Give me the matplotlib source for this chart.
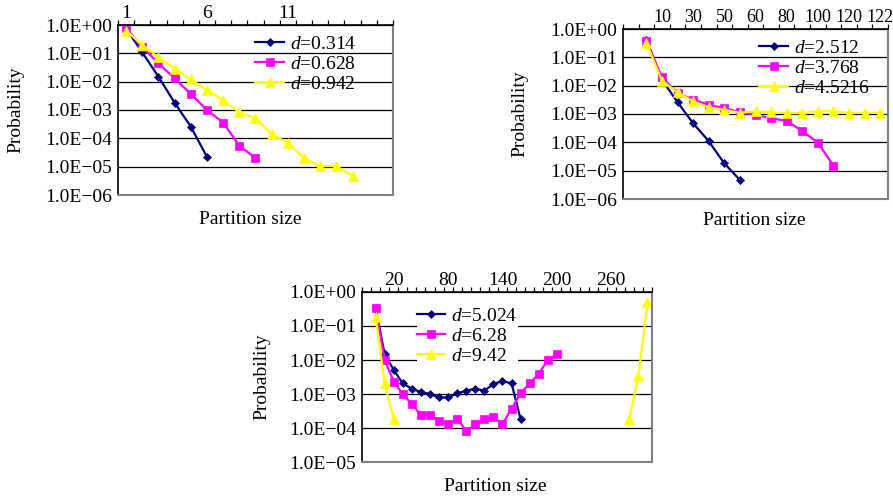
import numpy as np
import matplotlib
matplotlib.use("Agg")
import matplotlib.pyplot as plt
from matplotlib.transforms import ScaledTranslation

plt.rcParams["font.family"] = ["Liberation Serif", "DejaVu Serif"]
plt.rcParams["mathtext.fontset"] = "custom"
plt.rcParams["mathtext.rm"] = "Liberation Serif"
plt.rcParams["mathtext.it"] = "Liberation Serif:italic"

# chart 1: 17 categories, series start at category 1
c1_ncat = 17
c1_tick_cats = [1, 6, 11]
c1_tick_labels = ["1", "6", "11"]
c1_start = 1
d_0314 = [0.76, 0.108, 0.015, 0.0018, 2.6e-4, 2.2e-5]
d_0628 = [0.76, 0.17, 0.044, 0.013, 3.7e-3, 1.0e-3, 3.6e-4, 5.5e-5, 2.0e-5]
d_0942 = [0.63, 0.197, 0.072, 0.029, 0.012, 5.1e-3, 2.2e-3, 8.3e-4, 5.1e-4,
          1.4e-4, 7e-5, 2e-5, 1.05e-5, 1.05e-5, 4.7e-6]

# chart 2: 17 categories, series start at category 2
c2_ncat = 17
c2_tick_cats = [3, 5, 7, 9, 11, 13, 15, 17]
c2_tick_labels = ["10", "30", "50", "60", "80", "100", "120", "122"]
c2_start = 2
d_2512 = [0.42, 0.016, 2.6e-3, 4.7e-4, 1.1e-4, 1.8e-5, 4.7e-6]
d_3768 = [0.37, 0.0195, 5.5e-3, 3.2e-3, 2.1e-3, 1.6e-3, 1.15e-3, 9.3e-4,
          7.1e-4, 5.7e-4, 2.5e-4, 9.8e-5, 1.5e-5]
d_45216 = [0.32, 0.015, 5.8e-3, 2.8e-3, 1.7e-3, 1.4e-3, 1.1e-3, 1.25e-3,
           1.15e-3, 1.07e-3, 1.07e-3, 1.27e-3, 1.27e-3, 1.07e-3, 1.1e-3, 1.1e-3]

# chart 3: 32 categories, series start at category 2
c3_ncat = 32
c3_tick_cats = [4, 10, 16, 22, 28]
c3_tick_labels = ["20", "80", "140", "200", "260"]
c3_start = 2
d_5024 = [0.337, 0.0148, 5.1e-3, 2.05e-3, 1.43e-3, 1.14e-3, 1.0e-3, 7.9e-4,
          7.9e-4, 1.04e-3, 1.25e-3, 1.43e-3, 1.25e-3, 1.96e-3, 2.4e-3, 2.05e-3,
          1.82e-4]
d_628 = [0.337, 0.0100, 2.3e-3, 1.0e-3, 5.0e-4, 2.4e-4, 2.4e-4, 1.6e-4, 1.3e-4,
         1.9e-4, 8.1e-5, 1.3e-4, 1.8e-4, 2.1e-4, 1.3e-4, 3.7e-4, 1.04e-3,
         2.05e-3, 3.9e-3, 1.0e-2, 1.48e-2]
d_942 = [0.19, 2.05e-3, 1.9e-4] + [np.nan] * 25 + [1.9e-4, 3.4e-3, 0.5]

NAVY = "#000080"
MAGENTA = "#FF00FF"
YELLOW = "#FFFF00"
styles = [dict(color=NAVY, marker="D", ms=4.5),
          dict(color=MAGENTA, marker="s", ms=5.5),
          dict(color=YELLOW, marker="^", ms=6.5)]

FS = 14

W, H = 893, 498
fig = plt.figure(figsize=(W / 100, H / 100), dpi=100)


def px_axes(l, t, r, b):
    return fig.add_axes([l / W, 1 - b / H, (r - l) / W, (b - t) / H])


def draw(ax, ncat, start, series, labels, tick_cats, tick_labels, ymin_exp,
         leg_xy, ylab_x, xlab_xy, leg_bg, xfs=FS, xshift=0):
    for vals, lab, st in zip(series, labels, styles):
        x = np.arange(start, start + len(vals))
        ax.plot(x, vals, lw=1.6, mew=0.5, mec=st["color"], label=lab,
                **st, clip_on=False)
    ax.set_yscale("log")
    ax.set_ylim(10.0 ** ymin_exp, 1.0)
    ax.set_xlim(0.5, ncat + 0.5)
    exps = list(range(0, ymin_exp - 1, -1))
    ax.set_yticks([10.0 ** e for e in exps])
    ax.set_yticklabels(["1.0E+00" if e == 0 else "1.0E\u2212%02d" % (-e)
                        for e in exps], fontsize=FS)
    ax.yaxis.set_minor_locator(matplotlib.ticker.NullLocator())
    ax.tick_params(axis="y", length=0, pad=4)
    ax.grid(axis="y", color="black", lw=0.9)
    ax.set_axisbelow(True)
    ax.xaxis.tick_top()
    ax.set_xticks(tick_cats)
    ax.set_xticklabels(tick_labels, fontsize=xfs)
    if xshift:
        off = ScaledTranslation(xshift / 100, 0, fig.dpi_scale_trans)
        for t in ax.get_xticklabels():
            t.set_transform(t.get_transform() + off)
    ax.set_xticks(np.arange(0.5, ncat + 1), minor=True)
    ax.tick_params(axis="x", which="major", length=0, pad=2)
    ax.tick_params(axis="x", which="minor", length=3.5, width=0.9,
                   direction="out", color="black")
    for s in ["left", "top"]:
        ax.spines[s].set_color("black")
        ax.spines[s].set_linewidth(1.2)
    for s in ["right", "bottom"]:
        ax.spines[s].set_color("#808080")
        ax.spines[s].set_linewidth(1.5)
    ax.text(ylab_x, 0.5, "Probability", rotation=90, ha="center",
            va="center", fontsize=FS, transform=ax.transAxes)
    ax.text(xlab_xy[0], xlab_xy[1], "Partition size", ha="center",
            va="center", fontsize=FS, transform=ax.transAxes)
    leg = ax.legend(loc="upper left", bbox_to_anchor=leg_xy, fontsize=FS,
                    frameon=leg_bg, handlelength=1.45, handletextpad=0.3,
                    labelspacing=0.12, borderpad=0.0, borderaxespad=0.0)
    if leg_bg:
        leg.get_frame().set_facecolor("white")
        leg.get_frame().set_edgecolor("none")
        leg.get_frame().set_alpha(1)


ax1 = px_axes(118, 25, 393, 195)
draw(ax1, c1_ncat, c1_start, [d_0314, d_0628, d_0942],
     [r"$d$=0.314", r"$d$=0.628", r"$d$=0.942"],
     c1_tick_cats, c1_tick_labels, -6, (0.5, 0.94), -0.37, (0.48, -0.147),
     False)

ax2 = px_axes(623, 29, 888, 199)
draw(ax2, c2_ncat, c2_start, [d_2512, d_3768, d_45216],
     [r"$d$=2.512", r"$d$=3.768", r"$d$=4.5216"],
     c2_tick_cats, c2_tick_labels, -6, (0.515, 0.94), -0.39, (0.494, -0.124),
     False, xfs=13, xshift=-3)

ax3 = px_axes(362, 292, 652, 462)
draw(ax3, c3_ncat, c3_start, [d_5024, d_628, d_942],
     [r"$d$=5.024", r"$d$=6.28", r"$d$=9.42"],
     c3_tick_cats, c3_tick_labels, -5, (0.19, 0.91), -0.345, (0.46, -0.147),
     True)

fig.savefig("out.png", dpi=100)
